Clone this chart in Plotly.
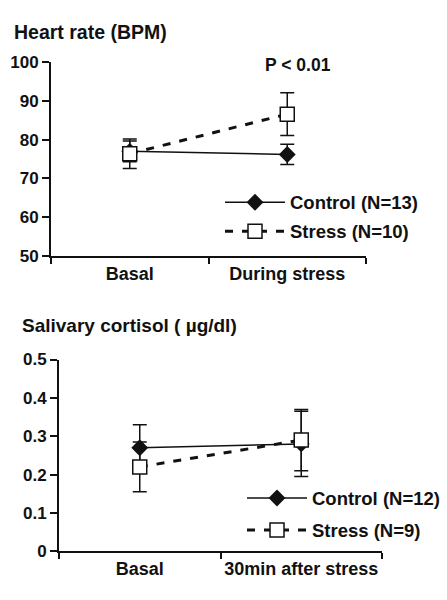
import plotly.graph_objects as go

# ---- data ----
hr_categories = ["Basal", "During stress"]
hr_control = [77.0, 76.2]
hr_control_err = [2.7, 2.6]
hr_stress = [76.4, 86.6]
hr_stress_err = [3.8, 5.5]
hr_yticks = [50, 60, 70, 80, 90, 100]
hr_yticktext = ["50", "60", "70", "80", "90", "100"]

cort_categories = ["Basal", "30min after stress"]
cort_control = [0.27, 0.28]
cort_control_err = [0.06, 0.085]
cort_stress = [0.22, 0.29]
cort_stress_err = [0.065, 0.08]
cort_yticks = [0, 0.1, 0.2, 0.3, 0.4, 0.5]
cort_yticktext = ["0", "0.1", "0.2", "0.3", "0.4", "0.5"]

xpos = [0.5, 1.5]
FONT = "Liberation Sans, Arial, sans-serif"
INK = "#111111"

fig = go.Figure()

def add_pair(xa, ya, ctrl, ctrl_err, strs, strs_err, ctrl_name, strs_name, legend):
    fig.add_trace(go.Scatter(
        x=xpos, y=ctrl, xaxis=xa, yaxis=ya, name=ctrl_name, legend=legend,
        legendgroup=ctrl_name,
        mode="lines+markers",
        line=dict(color=INK, width=1.5),
        marker=dict(symbol="diamond", size=13, color=INK),
        error_y=dict(type="data", array=ctrl_err, color=INK, thickness=1.5, width=7),
        legendrank=1,
    ))
    fig.add_trace(go.Scatter(
        x=xpos, y=strs, xaxis=xa, yaxis=ya, name=strs_name, legend=legend,
        legendgroup=strs_name,
        mode="lines+markers",
        line=dict(color=INK, width=3, dash="8px,9px"),
        marker=dict(symbol="square", size=14, color="white", line=dict(color=INK, width=1.5)),
        error_y=dict(type="data", array=strs_err, color=INK, thickness=1.5, width=7),
        legendrank=2,
    ))

add_pair("x", "y", hr_control, hr_control_err, hr_stress, hr_stress_err,
         "Control (N=13)", "Stress (N=10)", "legend")
add_pair("x2", "y2", cort_control, cort_control_err, cort_stress, cort_stress_err,
         "Control (N=12)", "Stress (N=9)", "legend2")

xcommon = dict(
    range=[0, 2], showline=True, linecolor=INK, linewidth=2, zeroline=False, showgrid=False,
    tickmode="array", tickvals=xpos, ticks="", ticklen=0,
    tickfont=dict(family=FONT, size=18, color=INK, weight="bold"),
    minor=dict(tickmode="array", tickvals=[0, 1, 2], ticks="outside", ticklen=6,
               tickwidth=2, tickcolor=INK, showgrid=False),
    fixedrange=True,
)
ycommon = dict(
    showline=True, linecolor=INK, linewidth=2, zeroline=False, showgrid=False,
    tickmode="array", ticks="outside", ticklen=7, tickwidth=2, tickcolor=INK,
    tickfont=dict(family=FONT, size=17, color=INK, weight="bold"), fixedrange=True,
)
legcommon = dict(xanchor="left", yanchor="middle",
                 font=dict(family=FONT, size=18.5, color=INK, weight="bold"),
                 bgcolor="rgba(0,0,0,0)", itemwidth=60)

fig.update_layout(
    width=447, height=600,
    margin=dict(l=0, r=0, t=0, b=0),
    paper_bgcolor="white", plot_bgcolor="white",
    font=dict(family=FONT, color=INK),
    xaxis=dict(domain=[51/447, 366/447], anchor="y", ticktext=hr_categories, **xcommon),
    yaxis=dict(domain=[(600-255)/600, (600-55)/600], anchor="x", range=[50, 100],
               tickvals=hr_yticks, ticktext=hr_yticktext, **ycommon),
    xaxis2=dict(domain=[59/447, 382/447], anchor="y2", ticktext=cort_categories, **xcommon),
    yaxis2=dict(domain=[(600-560)/600, (600-362)/600], anchor="x2", range=[0, 0.5],
                tickvals=cort_yticks, ticktext=cort_yticktext, **ycommon),
    legend=dict(x=220/447, y=1-215/600, tracegroupgap=2, **legcommon),
    legend2=dict(x=242/447, y=1-522/600, tracegroupgap=5, **legcommon),
    annotations=[
        dict(text="<b>Heart rate (BPM)</b>", xref="paper", yref="paper", x=12/447, y=1-24/600,
             xanchor="left", yanchor="middle", showarrow=False,
             font=dict(family=FONT, size=19.5, color=INK)),
        dict(text="<b>P < 0.01</b>", xref="paper", yref="paper", x=298/447, y=1-58/600,
             xanchor="center", yanchor="middle", showarrow=False,
             font=dict(family=FONT, size=17.5, color=INK)),
        dict(text="<b>Salivary cortisol ( µg/dl)</b>", xref="paper", yref="paper", x=20/447, y=1-327/600,
             xanchor="left", yanchor="middle", showarrow=False,
             font=dict(family=FONT, size=19, color=INK)),
    ],
)

fig.write_html("out.html", config={"displayModeBar": False},
               post_script="document.body.style.margin='0';document.body.style.overflow='hidden';")
